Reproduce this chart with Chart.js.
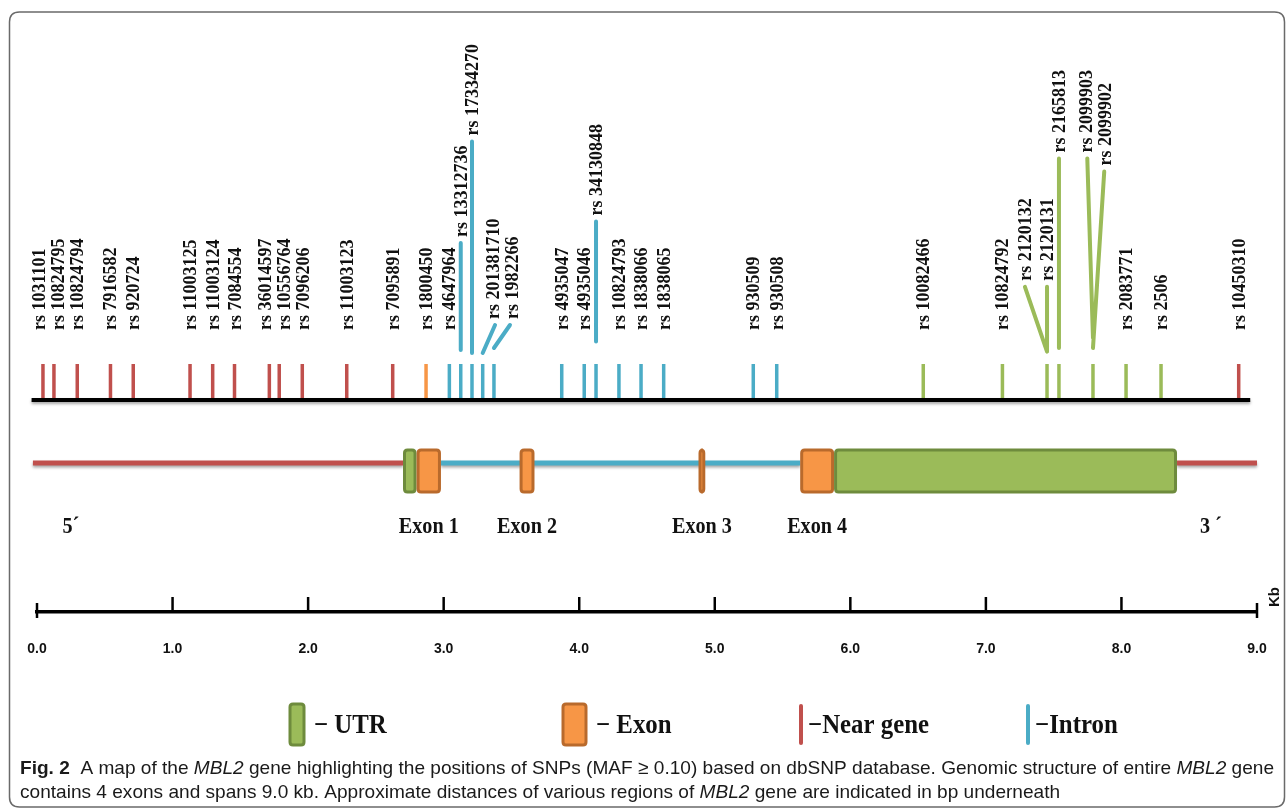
<!DOCTYPE html>
<html>
<head>
<meta charset="utf-8">
<script src="https://cdn.jsdelivr.net/npm/chart.js@4.4.1/dist/chart.umd.min.js"></script>
<style>
  html, body { margin: 0; padding: 0; background: #fff; }
  #wrap { position: relative; width: 1287px; height: 812px; }
</style>
</head>
<body>
<div id="wrap"><canvas id="map"></canvas></div>
<script>
// ---- SNPs along MBL2 (position in kb, region class) ----
const snpIds = [
  'rs 1031101', 'rs 10824795', 'rs 10824794', 'rs 7916582', 'rs 920724',
  'rs 11003125', 'rs 11003124', 'rs 7084554', 'rs 36014597', 'rs 10556764',
  'rs 7096206', 'rs 11003123', 'rs 7095891', 'rs 1800450', 'rs 4647964',
  'rs 13312736', 'rs 17334270', 'rs 201381710', 'rs 1982266', 'rs 4935047',
  'rs 4935046', 'rs 34130848', 'rs 10824793', 'rs 1838066', 'rs 1838065',
  'rs 930509', 'rs 930508', 'rs 10082466', 'rs 10824792', 'rs 2120132',
  'rs 2120131', 'rs 2165813', 'rs 2099903', 'rs 2099902', 'rs 2083771',
  'rs 2506', 'rs 10450310'
];
const snpKb = [
  0.044, 0.125, 0.297, 0.542, 0.710,
  1.129, 1.296, 1.457, 1.714, 1.787,
  1.957, 2.285, 2.624, 2.870, 3.042,
  3.126, 3.209, 3.288, 3.371, 3.871,
  4.037, 4.124, 4.293, 4.456, 4.623,
  5.284, 5.457, 6.538, 7.122, 7.451,
  7.451, 7.539, 7.790, 7.790, 8.034,
  8.292, 8.865
];
const snpRegion = [
  'near', 'near', 'near', 'near', 'near',
  'near', 'near', 'near', 'near', 'near',
  'near', 'near', 'near', 'exon', 'intron',
  'intron', 'intron', 'intron', 'intron', 'intron',
  'intron', 'intron', 'intron', 'intron', 'intron',
  'intron', 'intron', 'utr', 'utr', 'utr',
  'utr', 'utr', 'utr', 'utr', 'utr',
  'utr', 'near'
];
// leader stems for crowded SNPs (heights in track units, head position in kb)
const stemFoot = [
  null, null, null, null, null, null, null, null, null, null, null, null, null, null, null,
  12.5, 11.75, 11.75, 13.0, null, null, 14.6, null, null, null, null, null, null, null, 12.1,
  12.1, 13.0, 15.5, 13.0, null, null, null
];
const stemHead = [
  null, null, null, null, null, null, null, null, null, null, null, null, null, null, null,
  39.25, 64.6, 18.75, 18.75, null, null, 44.6, null, null, null, null, null, null, null, 28.3,
  28.3, 60.4, 60.4, 57.1, null, null, null
];
const stemHeadKb = [
  null, null, null, null, null, null, null, null, null, null, null, null, null, null, null,
  null, null, 3.379, 3.489, null, null, null, null, null, null, null, null, null, null, 7.288,
  null, null, 7.748, 7.873, null, null, null
];

// ---- gene structure (kb) ----
const backboneStart = [-0.03, 2.98, 8.41];
const backboneEnd   = [2.70, 5.63, 9.00];
const backboneType  = ['near', 'intron', 'near'];
const featStart = [2.70, 2.80, 3.56, 4.88, 5.63, 5.88];
const featEnd   = [2.80, 2.98, 3.67, 4.93, 5.88, 8.41];
const featType  = ['utr', 'exon', 'exon', 'exon', 'exon', 'utr'];
const exonNames = ['Exon 1', 'Exon 2', 'Exon 3', 'Exon 4'];
const exonFeature = [1, 2, 3, 4];

// ---- scale bar ----
const kbTickLabels = ['0.0', '1.0', '2.0', '3.0', '4.0', '5.0', '6.0', '7.0', '8.0', '9.0'];

// ---- key ----
const keyLabels = ['\u2212 UTR', '\u2212 Exon', '\u2212Near gene', '\u2212Intron'];
const keyTypes  = ['utr', 'exon', 'near', 'intron'];

const COLORS = {
  near:   { line: '#c0504d' },
  intron: { line: '#4bacc6' },
  exon:   { line: '#f79646', fill: '#f79646', edge: '#b96a2c' },
  utr:    { line: '#9bbb59', fill: '#9bbb59', edge: '#6e8b3d' }
};
const TICK_H = 9;          // SNP tick height (track units)
const GENE_Y = -15.75;     // gene backbone level
const BOX_TOP = -12.5, BOX_BOTTOM = -23;
const LABEL_GAP = 19;      // minimum spacing between neighbouring SNP names (px)
const SERIF = '"Liberation Serif", "Times New Roman", serif';
const SANS = '"Liberation Sans Narrow", "Liberation Sans", Arial, sans-serif';

function tickData(region) {
  const pts = [];
  snpKb.forEach((kb, i) => {
    if (snpRegion[i] !== region) return;
    pts.push({ x: kb, y: 0 }, { x: kb, y: TICK_H }, { x: kb, y: null });
  });
  return pts;
}
function stemData(region) {
  const pts = [];
  snpKb.forEach((kb, i) => {
    if (snpRegion[i] !== region || stemHead[i] === null) return;
    const hx = stemHeadKb[i] !== null ? stemHeadKb[i] : kb;
    pts.push({ x: kb, y: stemFoot[i] }, { x: hx, y: stemHead[i] }, { x: kb, y: null });
  });
  return pts;
}
function backboneData(type) {
  const pts = [];
  backboneStart.forEach((s, i) => {
    if (backboneType[i] !== type) return;
    pts.push({ x: s, y: GENE_Y }, { x: backboneEnd[i], y: GENE_Y }, { x: s, y: null });
  });
  return pts;
}

const datasets = [];
datasets.push({ data: [{ x: -0.04, y: 0 }, { x: 8.95, y: 0 }], borderColor: '#000', borderWidth: 4, shadow: true, clip: false });
['near', 'exon', 'intron', 'utr'].forEach(r => {
  datasets.push({ data: tickData(r), borderColor: COLORS[r].line, borderWidth: 3.5, borderCapStyle: 'butt', clip: false });
});
['intron', 'utr'].forEach(r => {
  datasets.push({ data: stemData(r), borderColor: COLORS[r].line, borderWidth: 4, borderCapStyle: 'round', clip: false });
});
['near', 'intron'].forEach(t => {
  datasets.push({ data: backboneData(t), borderColor: COLORS[t].line, borderWidth: 5, borderCapStyle: 'butt', shadow: true, clip: false });
});

function roundRect(ctx, x, y, w, h, r) {
  ctx.beginPath();
  ctx.moveTo(x + r, y);
  ctx.lineTo(x + w - r, y); ctx.quadraticCurveTo(x + w, y, x + w, y + r);
  ctx.lineTo(x + w, y + h - r); ctx.quadraticCurveTo(x + w, y + h, x + w - r, y + h);
  ctx.lineTo(x + r, y + h); ctx.quadraticCurveTo(x, y + h, x, y + h - r);
  ctx.lineTo(x, y + r); ctx.quadraticCurveTo(x, y, x + r, y);
  ctx.closePath();
}
function squeezedText(ctx, text, x, y, sx, align) {
  ctx.save();
  ctx.translate(x, y);
  ctx.scale(sx, 1);
  ctx.textAlign = align || 'left';
  ctx.fillText(text, 0, 0);
  ctx.restore();
}
function drawBox(ctx, x1, x2, y1, y2, type) {
  roundRect(ctx, x1 + 1.5, y1, x2 - x1 - 3, y2 - y1, 3);
  ctx.fillStyle = COLORS[type].fill;
  ctx.fill();
  ctx.lineWidth = 3;
  ctx.strokeStyle = COLORS[type].edge;
  ctx.stroke();
}

const figurePlugin = {
  id: 'figure',
  beforeDatasetDraw(chart, args) {
    if (chart.data.datasets[args.index].shadow) {
      const c = chart.ctx;
      c.save();
      c.shadowColor = 'rgba(0,0,0,0.35)';
      c.shadowBlur = 3;
      c.shadowOffsetY = 2;
    }
  },
  afterDatasetDraw(chart, args) {
    if (chart.data.datasets[args.index].shadow) chart.ctx.restore();
  },
  afterDatasetsDraw(chart) {
    const ctx = chart.ctx, xs = chart.scales.x, ys = chart.scales.y;
    // exon / UTR boxes
    const bt = ys.getPixelForValue(BOX_TOP), bb = ys.getPixelForValue(BOX_BOTTOM);
    featStart.forEach((s, i) => {
      drawBox(ctx, xs.getPixelForValue(s), xs.getPixelForValue(featEnd[i]), bt, bb, featType[i]);
    });

    // SNP names, rotated; neighbours that would collide are spread apart
    ctx.save();
    ctx.fillStyle = '#111';
    ctx.font = 'bold 18px ' + SERIF;
    ctx.textBaseline = 'alphabetic';
    const items = snpIds.map((id, i) => {
      let x, y;
      if (stemHead[i] !== null) {
        x = xs.getPixelForValue(stemHeadKb[i] !== null ? stemHeadKb[i] : snpKb[i]);
        y = ys.getPixelForValue(stemHead[i]) - 6;
      } else {
        x = xs.getPixelForValue(snpKb[i]);
        y = ys.getPixelForValue(0) - 70;
      }
      const len = ctx.measureText(id).width;
      return { id, x, y, top: y - len };
    });
    for (let iter = 0; iter < 60; iter++) {
      let moved = false;
      for (let a = 0; a < items.length; a++) {
        for (let b = a + 1; b < items.length; b++) {
          const A = items[a], B = items[b];
          if (!(A.top < B.y && B.top < A.y)) continue;
          const d = B.x - A.x;
          if (Math.abs(d) < LABEL_GAP - 0.01) {
            const push = (LABEL_GAP - Math.abs(d)) / 2;
            const s = d >= 0 ? 1 : -1;
            A.x -= s * push; B.x += s * push;
            moved = true;
          }
        }
      }
      if (!moved) break;
    }
    items.forEach(it => {
      ctx.save();
      ctx.translate(it.x + 6, it.y);
      ctx.rotate(-Math.PI / 2);
      ctx.textAlign = 'left';
      ctx.fillText(it.id, 0, 0);
      ctx.restore();
    });

    // exon names and strand ends
    ctx.font = 'bold 24px ' + SERIF;
    const ly = ys.getPixelForValue(BOX_BOTTOM) + 41;
    exonNames.forEach((name, k) => {
      const f = exonFeature[k];
      const cx = (xs.getPixelForValue(featStart[f]) + xs.getPixelForValue(featEnd[f])) / 2;
      squeezedText(ctx, name, cx, ly, 0.84, 'center');
    });
    squeezedText(ctx, '5\u00b4', xs.getPixelForValue(0.25), ly, 0.84, 'center');
    squeezedText(ctx, '3 \u00b4', xs.getPixelForValue(8.66), ly, 0.84, 'center');
    ctx.restore();
  },
  afterDraw(chart) {
    const ctx = chart.ctx, xs = chart.scales.x, area = chart.chartArea;
    // scale bar tick marks (pointing up)
    ctx.save();
    ctx.strokeStyle = '#000';
    ctx.lineWidth = 2.5;
    xs.ticks.forEach((t, i) => {
      const x = xs.getPixelForValue(t.value);
      const end = (i === 0 || i === xs.ticks.length - 1);
      ctx.beginPath();
      ctx.moveTo(x, end ? area.bottom - 9 : area.bottom - 15);
      ctx.lineTo(x, end ? area.bottom + 6 : area.bottom);
      ctx.stroke();
    });
    // unit
    ctx.fillStyle = '#111';
    ctx.font = 'bold 15px ' + SANS;
    ctx.translate(xs.right + 22, area.bottom - 5);
    ctx.rotate(-Math.PI / 2);
    ctx.textAlign = 'left';
    ctx.fillText('Kb', 0, 0);
    ctx.restore();

    // key
    ctx.save();
    const kx = [290, 563, 799, 1026];
    const kw = [14, 23, 4, 4];
    const tx = [314, 596, 808, 1035];
    ctx.font = 'bold 27px ' + SERIF;
    keyTypes.forEach((t, i) => {
      if (t === 'utr' || t === 'exon') {
        roundRect(ctx, kx[i], 704, kw[i], 41, 3);
        ctx.fillStyle = COLORS[t].fill; ctx.fill();
        ctx.lineWidth = 3; ctx.strokeStyle = COLORS[t].edge; ctx.stroke();
      } else {
        ctx.fillStyle = COLORS[t].line;
        roundRect(ctx, kx[i], 704, kw[i], 41, 2);
        ctx.fill();
      }
      ctx.fillStyle = '#111';
      squeezedText(ctx, keyLabels[i], tx[i], 733, 0.92, 'left');
    });
    ctx.restore();

    // caption
    ctx.save();
    const line1 = [
      { t: 'Fig. 2', w: 'bold ' }, { t: '  A map of the ' }, { t: 'MBL2', w: 'italic ' },
      { t: ' gene highlighting the positions of SNPs (MAF ' }, { t: '\u2265' },
      { t: ' 0.10) based on dbSNP database. Genomic structure of entire ' },
      { t: 'MBL2', w: 'italic ' }, { t: ' gene' }
    ];
    const line2 = [
      { t: 'contains 4 exons and spans 9.0 kb. Approximate distances of various regions of ' },
      { t: 'MBL2', w: 'italic ' }, { t: ' gene are indicated in bp underneath' }
    ];
    const fontOf = s => (s.w || '') + '19px ' + SANS;
    const widthOf = segs => segs.reduce((a, s) => { ctx.font = fontOf(s); return a + ctx.measureText(s.t).width; }, 0);
    const sx = 1254 / widthOf(line1);
    ctx.fillStyle = '#1a1a1a';
    ctx.textBaseline = 'alphabetic';
    [[line1, 774], [line2, 798]].forEach(([segs, y]) => {
      ctx.save();
      ctx.translate(20, y);
      ctx.scale(sx, 1);
      let x = 0;
      segs.forEach(s => { ctx.font = fontOf(s); ctx.fillText(s.t, x, 0); x += ctx.measureText(s.t).width; });
      ctx.restore();
    });
    ctx.restore();

    // frame
    ctx.save();
    ctx.strokeStyle = '#6a6a6a';
    ctx.lineWidth = 1.5;
    roundRect(ctx, 9.5, 12, 1275, 795, 10);
    ctx.stroke();
    ctx.restore();
  }
};

const chart = new Chart(document.getElementById('map'), {
  type: 'line',
  data: { datasets },
  options: {
    responsive: true,
    maintainAspectRatio: false,
    animation: false,
    events: [],
    layout: { padding: { left: 37, right: 30, top: 12, bottom: 140 } },
    elements: { point: { radius: 0 }, line: { tension: 0, fill: false } },
    datasets: { line: { spanGaps: false, pointRadius: 0 } },
    plugins: { legend: { display: false }, tooltip: { enabled: false } },
    scales: {
      x: {
        type: 'linear', min: 0, max: 9,
        afterFit: s => { s.height = 60; },
        // invisible tick marks only push the labels down below the bar
        grid: { display: true, drawOnChartArea: false, drawTicks: true, tickLength: 22, tickColor: 'rgba(0,0,0,0)' },
        border: { display: true, color: '#000', width: 3.5 },
        ticks: {
          stepSize: 1, autoSkip: false, maxRotation: 0, padding: 7,
          color: '#111', font: { family: SANS, size: 14, weight: 'bold' },
          callback: (v, i) => kbTickLabels[i]
        }
      },
      y: { type: 'linear', min: -53, max: 97, display: false }
    }
  },
  plugins: [figurePlugin]
});
</script>
</body>
</html>
